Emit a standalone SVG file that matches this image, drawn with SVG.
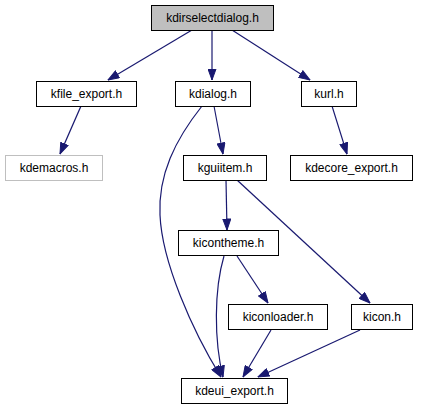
<svg xmlns="http://www.w3.org/2000/svg" width="421" height="411" viewBox="0 0 421 411">
<style>
.n rect{fill:#fff;stroke:#000;stroke-width:1}
.n text{font-family:"Liberation Sans",Arial,sans-serif;font-size:12px;text-anchor:middle;fill:#000}
#root rect{fill:#bfbfbf}
#kdemacros rect{stroke:#bfbfbf}
.e path{fill:none;stroke:#191970;stroke-width:1.2;marker-end:url(#ah)}
</style>
<defs>
<marker id="ah" markerUnits="userSpaceOnUse" markerWidth="12" markerHeight="9" refX="11.5" refY="4.5" orient="auto">
<path d="M0.5,0.5 L11.5,4.5 L0.5,8.5 z" fill="#191970" stroke="#191970" stroke-width="1"/>
</marker>
</defs>
<rect width="421" height="411" fill="#fff"/>
<g id="edges" class="e">
<path d="M192,30 L108,80"/>
<path d="M212,30 L212,80"/>
<path d="M232,30 L310,80"/>
<path d="M81,106 L60,154"/>
<path d="M214,106 L223,154"/>
<path d="M202,106 C175,140 158,175 160,215 C162,262 192,330 221,377"/>
<path d="M332,106 L347,154"/>
<path d="M226,180 L227,230"/>
<path d="M237,180 L370,303"/>
<path d="M224,256 C214,290 214,340 223,377"/>
<path d="M237,256 L268,303"/>
<path d="M271,330 L243,377"/>
<path d="M360,330 L258,377"/>
</g>
<g id="root" class="n"><rect x="151.5" y="5.5" width="122" height="25"/><text x="212.5" y="22">kdirselectdialog.h</text></g>
<g id="kfile_export" class="n"><rect x="36.5" y="81.5" width="100" height="25"/><text x="86.5" y="98">kfile_export.h</text></g>
<g id="kdialog" class="n"><rect x="175.5" y="81.5" width="75" height="25"/><text x="213" y="98">kdialog.h</text></g>
<g id="kurl" class="n"><rect x="301.5" y="81.5" width="55" height="25"/><text x="329" y="98">kurl.h</text></g>
<g id="kdemacros" class="n"><rect x="5.5" y="155.5" width="97" height="25"/><text x="54" y="172">kdemacros.h</text></g>
<g id="kguiitem" class="n"><rect x="183.5" y="155.5" width="83" height="25"/><text x="225" y="172">kguiitem.h</text></g>
<g id="kdecore_export" class="n"><rect x="290.5" y="155.5" width="122" height="25"/><text x="351.5" y="172">kdecore_export.h</text></g>
<g id="kicontheme" class="n"><rect x="178.5" y="230.5" width="100" height="25"/><text x="228.5" y="247">kicontheme.h</text></g>
<g id="kiconloader" class="n"><rect x="228.5" y="304.5" width="99" height="25"/><text x="278" y="321">kiconloader.h</text></g>
<g id="kicon" class="n"><rect x="351.5" y="304.5" width="61" height="25"/><text x="382" y="321">kicon.h</text></g>
<g id="kdeui_export" class="n"><rect x="181.5" y="378.5" width="106" height="25"/><text x="234.5" y="395">kdeui_export.h</text></g>
</svg>
